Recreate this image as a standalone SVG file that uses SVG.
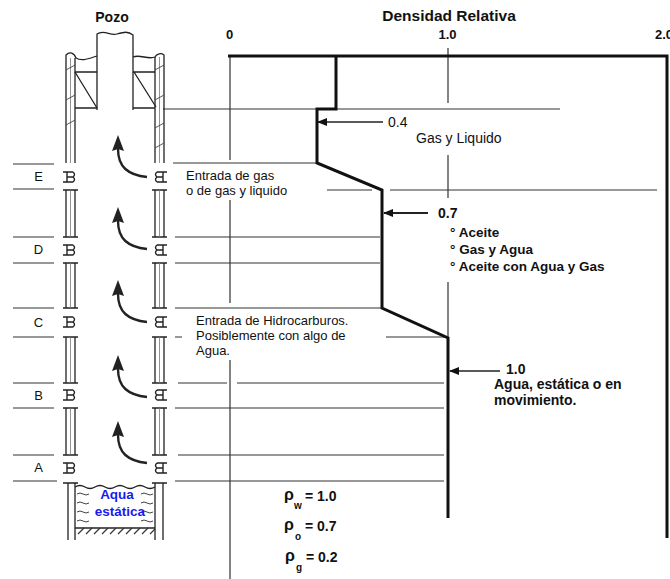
<svg xmlns="http://www.w3.org/2000/svg" width="670" height="579" viewBox="0 0 670 579">
<style>
text{font-family:"Liberation Sans",Arial,sans-serif;fill:#111}
.b{font-weight:bold}
.thin{stroke:#333;stroke-width:1.2;fill:none}
.thick{stroke:#111;stroke-width:3;fill:none}
.well{stroke:#222;stroke-width:1.3;fill:none}
.blue{fill:#1a1aee}
.rho{font-size:16px;font-weight:bold}
.sub{font-size:10px;font-weight:bold}
.eq{font-size:14px;font-weight:bold}
</style>
<defs>
<marker id="ah" viewBox="0 0 10 8" refX="9" refY="4" markerWidth="10" markerHeight="8" markerUnits="userSpaceOnUse" orient="auto">
<path d="M0,0 L10,4 L0,8 Z" fill="#111"/>
</marker>
<g id="perfL"><path d="M63,-5 h10 M63,5 h10 M67,-5 v10 M73,-5 q3,2.5 0,5 q3,2.5 0,5 M67,0 h6" stroke="#222" stroke-width="1.4" fill="none"/></g>
<g id="perfR"><path d="M157,-5 h10 M157,5 h10 M163,-5 v10 M157,-5 q-3,2.5 0,5 q-3,2.5 0,5 M157,0 h6" stroke="#222" stroke-width="1.4" fill="none"/></g>
<g id="flow"><path d="M147,0 C128,-2 118,-10 118,-28" stroke="#222" stroke-width="2.4" fill="none"/><path d="M118,-42 L124,-26 L118,-28 L112,-26 Z" fill="#222"/></g>
</defs>

<g id="titles">
<text x="112" y="22" text-anchor="middle" class="b" font-size="14">Pozo</text>
<text x="449" y="21" text-anchor="middle" class="b" font-size="15.5">Densidad Relativa</text>
<text x="229.5" y="39" text-anchor="middle" class="b" font-size="13">0</text>
<text x="447.5" y="39" text-anchor="middle" class="b" font-size="13">1.0</text>
<text x="655" y="39" class="b" font-size="13">2.0</text>
</g>

<g id="connectors">
<path class="thin" d="M13,164 H54 M13,189 H54 M13,237 H54 M13,263 H54 M13,308 H54 M13,337 H54 M13,383 H54 M13,408 H54 M13,455 H54 M13,481 H57"/>
<path class="thin" d="M163,109 H560 M173,163 H316 M327,190 H372 M390,190 H657 M175,237 H380 M175,263 H380 M175,308 H382 M175,337 H182 M386,337 H446 M178,383 H227 M237,383 H444 M175,408 H444 M178,455 H444 M175,481 H444"/>
<path class="thin" d="M230,56 V160 M230,200 V303 M230,360 V579"/>
<path class="thin" d="M448,48 V103 M448,155 V198 M448,282 V338"/>
<path class="thick" d="M228,56 H667 V538"/>
<path class="thick" stroke-width="2.8" d="M336,56 V109 H317 V163 L382,190 V308 L448,338 V518"/>
<line x1="383" y1="122" x2="318" y2="122" stroke="#222" stroke-width="1.3" marker-end="url(#ah)"/>
<line x1="428" y1="213" x2="384" y2="213" stroke="#222" stroke-width="2" marker-end="url(#ah)"/>
<line x1="500" y1="371" x2="450" y2="371" stroke="#222" stroke-width="1.4" marker-end="url(#ah)"/>
</g>

<g id="well">
<path class="well" d="M97,110 V34 C104,29 110,36 117,34 C124,32 128,31 133,35 V110"/>
<path class="well" d="M66,163 V55 C70,51 74,53 76,58 C82,62 90,58 97,56"/>
<path class="well" d="M75,58 V163"/>
<path d="M70.5,58 V163" stroke="#777" stroke-width="0.8"/>
<path class="well" d="M164,163 V55 C160,52 156,55 155,57 C148,60 140,54 133,57"/>
<path class="well" d="M155,57 V163"/>
<path d="M159.5,57 V163" stroke="#777" stroke-width="0.8"/>
<path class="well" d="M75,72 H97 M75,108 H97 M75,72 L97,108 M133,72 H155 M133,108 H155 M134,72 L156,107"/>
<path d="M66,70 L75,65 M66,100 L75,95 M66,125 L75,120 M155,70 L164,65 M155,100 L164,95 M155,128 L164,123 M155,148 L164,143" stroke="#444" stroke-width="0.9"/>
<g class="well">
<path d="M63,190 H78 M66,190 V237 M75,190 V237 M63,237 H78"/>
<path d="M63,263 H78 M66,263 V308 M75,263 V308 M63,308 H78"/>
<path d="M63,337 H78 M66,337 V383 M75,337 V383 M63,383 H78"/>
<path d="M63,408 H78 M66,408 V455 M75,408 V455 M63,455 H78"/>
<path d="M152,190 H167 M155,190 V237 M164,190 V237 M152,237 H167"/>
<path d="M152,263 H167 M155,263 V308 M164,263 V308 M152,308 H167"/>
<path d="M152,337 H167 M155,337 V383 M164,337 V383 M152,383 H167"/>
<path d="M152,408 H167 M155,408 V455 M164,408 V455 M152,455 H167"/>
</g>
<path d="M70.5,190 V237 M70.5,263 V308 M70.5,337 V383 M70.5,408 V455 M159.5,190 V237 M159.5,263 V308 M159.5,337 V383 M159.5,408 V455" stroke="#777" stroke-width="0.8"/>
<use href="#perfL" y="177"/><use href="#perfR" y="177"/>
<use href="#perfL" y="250"/><use href="#perfR" y="250"/>
<use href="#perfL" y="322"/><use href="#perfR" y="322"/>
<use href="#perfL" y="395"/><use href="#perfR" y="395"/>
<use href="#perfL" y="468"/><use href="#perfR" y="468"/>
<use href="#flow" y="177"/>
<use href="#flow" y="249"/>
<use href="#flow" y="322"/>
<use href="#flow" y="397"/>
<use href="#flow" y="463"/>
</g>

<g id="water">
<path class="well" d="M63,483 H78 M68,483 V540 M75,483 V540 M152,483 H167 M155,483 V540 M163,483 V540"/>
<path class="well" d="M75,487 q5,-3 10,0 t10,0 t10,0 t10,0 t10,0 t10,0 t10,0 t10,0"/>
<path class="well" d="M75,528 H155"/>
<path d="M78,534 L84,528 M86,534 L92,528 M94,534 L100,528 M102,534 L108,528 M110,534 L116,528 M118,534 L124,528 M126,534 L132,528 M134,534 L140,528 M142,534 L148,528 M150,534 L155,529" stroke="#333" stroke-width="1.2"/>
<path d="M77,494 q3,-2 6,0 t6,0 M77,503 q3,-2 6,0 t6,0 M77,512 q3,-2 6,0 t6,0 M77,521 q3,-2 6,0 t6,0 M141,494 q3,-2 6,0 t6,0 M141,503 q3,-2 6,0 t6,0 M141,512 q3,-2 6,0 t6,0 M141,521 q3,-2 6,0 t6,0" stroke="#444" stroke-width="1" fill="none"/>
<text x="117" y="499" text-anchor="middle" class="b blue" font-size="13.5">Aqua</text>
<text x="120" y="516" text-anchor="middle" class="b blue" font-size="13.5">estática</text>
</g>

<g id="zones" font-size="13">
<text x="38.5" y="181" text-anchor="middle">E</text>
<text x="38.5" y="254" text-anchor="middle">D</text>
<text x="38.5" y="327" text-anchor="middle">C</text>
<text x="38.5" y="400" text-anchor="middle">B</text>
<text x="38.5" y="472" text-anchor="middle">A</text>
</g>

<g id="labels">
<text x="186" y="180" font-size="13">Entrada de gas</text>
<text x="186" y="195" font-size="13">o de gas y liquido</text>
<text x="196" y="325" font-size="13">Entrada de Hidrocarburos.</text>
<text x="196" y="340" font-size="13">Posiblemente con algo de</text>
<text x="196" y="355" font-size="13">Agua.</text>
<text x="388" y="127" font-size="14">0.4</text>
<text x="416" y="143" font-size="14">Gas y Liquido</text>
<text x="438" y="218" class="b" font-size="14">0.7</text>
<text x="450" y="237" class="b" font-size="13.5">° Aceite</text>
<text x="450" y="254" class="b" font-size="13.5">° Gas y Agua</text>
<text x="450" y="271" class="b" font-size="13.5">° Aceite con Agua y Gas</text>
<text x="506" y="374" class="b" font-size="14">1.0</text>
<text x="494" y="389" class="b" font-size="14">Agua, estática o en</text>
<text x="494" y="405" class="b" font-size="14">movimiento.</text>
</g>

<g id="densities">
<text x="284" y="500" class="rho">ρ</text>
<text x="294" y="509" class="sub">w</text>
<text x="305" y="501" class="eq">= 1.0</text>
<text x="284" y="530" class="rho">ρ</text>
<text x="295" y="540" class="sub">o</text>
<text x="305" y="531" class="eq">=  0.7</text>
<text x="285" y="561" class="rho">ρ</text>
<text x="296" y="571" class="sub">g</text>
<text x="306" y="562" class="eq">=  0.2</text>
</g>
</svg>
